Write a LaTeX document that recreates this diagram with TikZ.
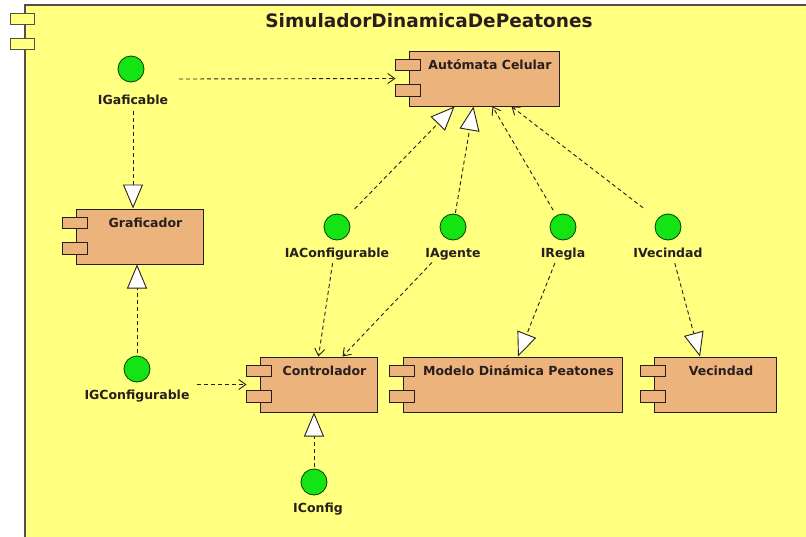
\documentclass[tikz,border=0pt]{standalone}
\usepackage{fontspec}
\setmainfont{DejaVu Sans}
\usepackage{tikz}
\usetikzlibrary{calc}
\usetikzlibrary{positioning}
\usetikzlibrary{arrows.meta}

\definecolor{framefill}{RGB}{255,255,128}
\definecolor{framegray}{RGB}{85,80,70}
\definecolor{boxfill}{RGB}{236,180,124}
\definecolor{ifacegreen}{RGB}{20,228,20}
\definecolor{inkdark}{RGB}{40,30,30}

\tikzset{
  simframe/.style={draw=framegray, fill=framefill, line width=1.3pt,
    minimum width=805pt, minimum height=555pt, inner sep=0pt},
  comp/.style={draw=inkdark, fill=boxfill, line width=1pt,
    minimum height=55pt, inner sep=0pt},
  port/.style={draw=inkdark, fill=boxfill, line width=1pt},
  iface/.style={circle, draw=green!25!black, fill=ifacegreen, line width=0.8pt,
    minimum size=26pt, inner sep=0pt},
  lbl/.style={font=\bfseries\fontsize{12.5}{14}\selectfont, text=inkdark,
    inner sep=0pt, text height=9pt, text depth=2.5pt},
  dep/.style={draw=inkdark, line width=0.9pt, dash pattern=on 4pt off 3pt,
    -{Straight Barb[length=7pt,width=10pt]}},
  real/.style={draw=inkdark, line width=0.9pt, dash pattern=on 4pt off 3pt,
    -{Triangle[length=24pt,width=20pt,fill=white]}},
}

\begin{document}
\begin{tikzpicture}[x=1pt,y=-1pt]

        \def\g{8pt}

        \useasboundingbox (0,0) rectangle (806,536);
        \fill[white] (0,0) rectangle (806,536);
        \clip (0,0) rectangle (806,536);

        % the enclosing component
        \node[simframe] (sim) at (427.5,282.5) {};
        \draw[port, draw=framegray, fill=framefill] ([xshift=-14pt,yshift=-9pt]sim.north west) rectangle ++(24,11);
        \draw[port, draw=framegray, fill=framefill] ([xshift=-14pt,yshift=-34pt]sim.north west) rectangle ++(24,11);
        \node[lbl, font=\bfseries\fontsize{18.5}{20}\selectfont, text height=13pt, text depth=4pt] (title) at (429,23) {SimuladorDinamicaDePeatones};

        % components
        \node[comp, minimum width=150pt] (automata) at (484,78.5) {};
        \node[comp, minimum width=127pt] (graficador) at (139.5,236.5) {};
        \node[comp, minimum width=117pt] (controlador) at (318.5,384.5) {};
        \node[comp, minimum width=219pt] (modelo) at (512.5,384.5) {};
        \node[comp, minimum width=122pt] (vecindad) at (715,384.5) {};

        \foreach \c in {automata, graficador, controlador, modelo, vecindad}
        {
            \draw[port] ([xshift=-13pt,yshift=-9pt]\c.north west) rectangle ++(25,11);
            \draw[port] ([xshift=-13pt,yshift=-34pt]\c.north west) rectangle ++(25,12);
        }

        \node[lbl] at ([xshift=6pt,yshift=-15.5pt]automata.north) {Autómata Celular};
        \node[lbl] at ([xshift=6pt,yshift=-15.5pt]graficador.north) {Graficador};
        \node[lbl] at ([xshift=6pt,yshift=-15.5pt]controlador.north) {Controlador};
        \node[lbl] at ([xshift=6pt,yshift=-15.5pt]modelo.north) {Modelo Dinámica Peatones};
        \node[lbl] at ([xshift=6pt,yshift=-15.5pt]vecindad.north) {Vecindad};

        % interfaces
        \node[iface] (igaf) at (131,69) {};
        \node[iface] (iacfg) at (337,227) {};
        \node[iface] (iagente) at (453,227) {};
        \node[iface] (iregla) at (563,227) {};
        \node[iface] (ivec) at (668,227) {};
        \node[iface] (igcfg) at (137,369) {};
        \node[iface] (icfg) at (314,482) {};

        \node[lbl, below=13pt of igaf, xshift=2pt] (igaf-t) {IGaficable};
        \node[lbl, below=\g of iacfg] (iacfg-t) {IAConfigurable};
        \node[lbl, below=\g of iagente] (iagente-t) {IAgente};
        \node[lbl, below=\g of iregla] (iregla-t) {IRegla};
        \node[lbl, below=\g of ivec] (ivec-t) {IVecindad};
        \node[lbl, below=\g of igcfg] (igcfg-t) {IGConfigurable};
        \node[lbl, below=\g of icfg, xshift=4pt] (icfg-t) {IConfig};

        \coordinate (igafout) at ($(igaf)+(48,10)$);

        \begin{scope}
            \draw[dep] (igafout) -- ([xshift=-13pt]automata.west);
            \draw[real, shorten <=4pt] (igaf-t.south) -- (igaf-t.south |- graficador.north);
            \draw[real, shorten <=3pt] (igcfg) -- (igcfg |- graficador.south);
            \draw[dep] ($(igcfg-t.east |- controlador.west)+(7,0)$) -- ([xshift=-13pt]controlador.west);
            \draw[real, shorten <=2pt] (icfg) -- (icfg |- controlador.south);

            \draw[real, shorten <=12pt] (iacfg) -- ([xshift=46pt]automata.south west);
            \draw[real, shorten <=1pt] (iagente) -- ([xshift=65pt]automata.south west);
            \draw[dep, shorten <=6pt] (iregla) -- ([xshift=84pt]automata.south west);
            \draw[dep, shorten <=18pt] (ivec) -- ([xshift=103pt]automata.south west);

            \draw[dep, shorten <=3pt] ([xshift=-4pt]iacfg-t.south) -- (controlador.north);
            \draw[dep, shorten <=3pt] ([xshift=-19pt]iagente-t.south) -- ([xshift=24pt]controlador.north);
            \draw[real, shorten <=3pt] ([xshift=-7pt]iregla-t.south) -- ([xshift=5.5pt]modelo.north);
            \draw[real, shorten <=3pt] ([xshift=6pt]ivec-t.south) -- ([xshift=-15pt]vecindad.north);
        \end{scope}

\end{tikzpicture}
\end{document}
